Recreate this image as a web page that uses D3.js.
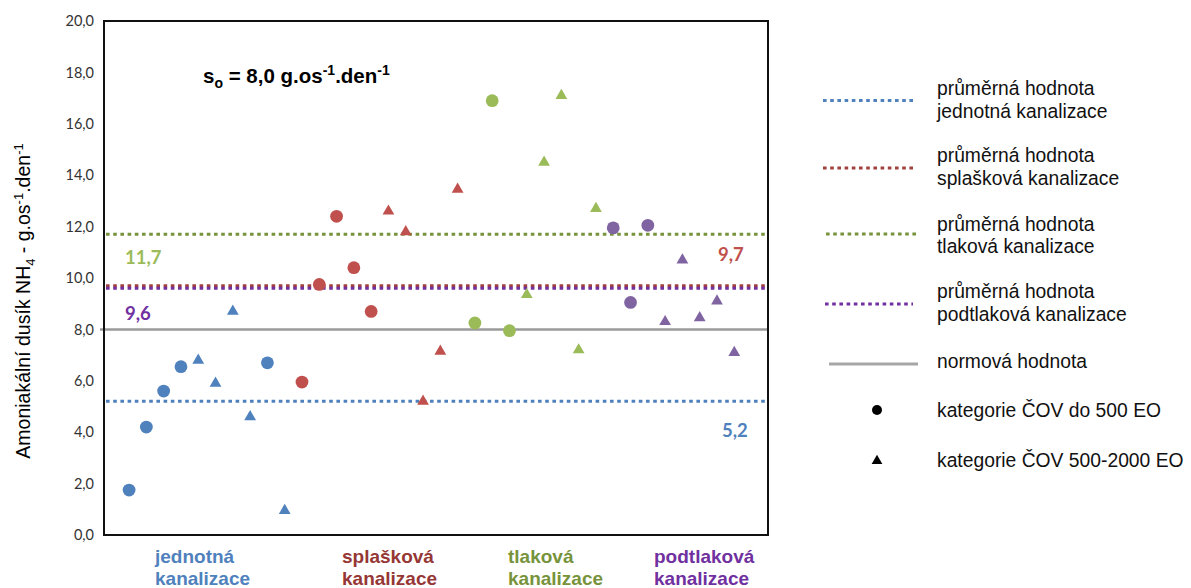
<!DOCTYPE html>
<html>
<head>
<meta charset="utf-8">
<script src="https://cdn.jsdelivr.net/npm/d3@7/dist/d3.min.js"></script>
<style>
  html, body { margin: 0; padding: 0; background: #fff; }
  svg { display: block; }
</style>
</head>
<body>
<div id="chart"></div>
<script>
// Specific load of ammonium nitrogen per person and day, by sewer type
const categories = ["jednotná kanalizace", "splašková kanalizace", "tlaková kanalizace", "podtlaková kanalizace"];
const categoryLines = [["jednotná", "kanalizace"], ["splašková", "kanalizace"], ["tlaková", "kanalizace"], ["podtlaková", "kanalizace"]];

// measured values for each plant (C = ČOV do 500 EO, T = ČOV 500-2000 EO)
const jednotnaValues   = [1.75, 4.2, 5.6, 6.55, 6.8, 5.9, 8.7, 4.6, 6.7, 0.95];
const jednotnaTypes    = ["C", "C", "C", "C", "T", "T", "T", "T", "C", "T"];
const splaskovaValues  = [5.95, 9.75, 12.4, 10.4, 8.7, 12.6, 11.8, 5.2, 7.15, 13.45];
const splaskovaTypes   = ["C", "C", "C", "C", "C", "T", "T", "T", "T", "T"];
const tlakovaValues    = [8.25, 16.9, 7.95, 9.35, 14.5, 17.1, 7.2, 12.7];
const tlakovaTypes     = ["C", "C", "C", "T", "T", "T", "T", "T"];
const podtlakovaValues = [11.95, 9.05, 12.05, 8.3, 10.7, 8.45, 9.1, 7.1];
const podtlakovaTypes  = ["C", "C", "C", "T", "T", "T", "T", "T"];

// mean value for each sewer type and the standard value
const meanValues = [5.2, 9.7, 11.7, 9.6];
const meanLabels = ["5,2", "9,7", "11,7", "9,6"];
const normValue = 8.0;

const yTicks = [0, 2, 4, 6, 8, 10, 12, 14, 16, 18, 20];

const legendMeanLabels = [
  ["průměrná hodnota", "jednotná kanalizace"],
  ["průměrná hodnota", "splašková kanalizace"],
  ["průměrná hodnota", "tlaková kanalizace"],
  ["průměrná hodnota", "podtlaková kanalizace"]
];
const legendNormLabel = "normová hodnota";
const legendMarkerLabels = ["kategorie ČOV do 500 EO", "kategorie ČOV 500-2000 EO"];

// colours
const markerColors = ["#4F81BD", "#C0504D", "#9BBB59", "#8064A2"];
const meanLineColors = ["#4F81BD", "#A0413F", "#77933C", "#7030A0"];
const meanLabelColors = ["#4F81BD", "#C0504D", "#9BBB59", "#7030A0"];
const categoryColors = ["#4F81BD", "#953735", "#77933C", "#7030A0"];

// ---- build point table ----
const groups = [
  [jednotnaValues, jednotnaTypes],
  [splaskovaValues, splaskovaTypes],
  [tlakovaValues, tlakovaTypes],
  [podtlakovaValues, podtlakovaTypes]
];
const points = [];
groups.forEach(([vals, types], g) => {
  vals.forEach((v, i) => points.push({ group: g, value: v, type: types[i], idx: points.length + 1 }));
});

const W = 1191, H = 588;
const plot = { left: 104, top: 21, right: 768, bottom: 535 };

const svg = d3.select("#chart").append("svg")
  .attr("width", W).attr("height", H)
  .attr("viewBox", `0 0 ${W} ${H}`);

const x = d3.scaleLinear().domain([-0.45, points.length + 1.95]).range([plot.left, plot.right]);
const y = d3.scaleLinear().domain([0, 20]).range([plot.bottom, plot.top]);

const fmt = d => d.toFixed(1).replace(".", ",");

// y axis tick labels
const yAxis = d3.axisLeft(y).tickValues(yTicks).tickFormat(fmt).tickSize(0).tickPadding(10);
const gy = svg.append("g").attr("transform", `translate(${plot.left},0)`).call(yAxis);
gy.select(".domain").remove();
gy.selectAll("text")
  .attr("font-family", "Lato, 'Open Sans', sans-serif")
  .attr("font-size", 14.5)
  .attr("fill", "#333");

// y axis title
const yTitle = svg.append("text")
  .attr("transform", "translate(30,301) rotate(-90)")
  .attr("text-anchor", "middle")
  .attr("font-family", "'Liberation Sans', Arial, sans-serif")
  .attr("font-size", 19.5)
  .attr("fill", "#000");
yTitle.append("tspan").text("Amoniakální dusík NH");
yTitle.append("tspan").attr("font-size", 13).attr("dy", 5).text("4");
yTitle.append("tspan").attr("dy", -5).text(" - g.os");
yTitle.append("tspan").attr("font-size", 13).attr("dy", -7).text("-1");
yTitle.append("tspan").attr("dy", 7).text(".den");
yTitle.append("tspan").attr("font-size", 13).attr("dy", -7).text("-1");

// mean value lines (dotted)
svg.append("g").selectAll("line").data(meanValues).join("line")
  .attr("x1", plot.left + 2).attr("x2", plot.right - 2)
  .attr("y1", d => y(d)).attr("y2", d => y(d))
  .attr("stroke", (d, i) => meanLineColors[i])
  .attr("stroke-width", 3)
  .attr("stroke-dasharray", "3.6 3.6");

// standard value line
svg.append("line")
  .attr("x1", plot.left - 4).attr("x2", plot.right)
  .attr("y1", y(normValue)).attr("y2", y(normValue))
  .attr("stroke", "#9a9a9a").attr("stroke-width", 2.5);

// plot frame
svg.append("rect")
  .attr("x", plot.left).attr("y", plot.top)
  .attr("width", plot.right - plot.left).attr("height", plot.bottom - plot.top)
  .attr("fill", "none").attr("stroke", "#111").attr("stroke-width", 2);

// points
const circleSym = d3.symbol().type(d3.symbolCircle).size(Math.PI * 6.4 * 6.4);
const triSym = d3.symbol().type(d3.symbolTriangle).size(60);
svg.append("g").selectAll("path").data(points).join("path")
  .attr("transform", d => `translate(${x(d.idx)},${y(d.value)})`)
  .attr("d", d => d.type === "C" ? circleSym() : triSym())
  .attr("fill", d => markerColors[d.group]);

// mean value labels
const meanLabelPos = [
  { x: 722, dy: 36 },   // jednotná – below its line
  { x: 718, dy: -25 },  // splašková – above its line
  { x: 125, dy: 30 },   // tlaková – below its line
  { x: 125, dy: 32 }    // podtlaková – below its line
];
svg.append("g").selectAll("text").data(meanValues).join("text")
  .attr("x", (d, i) => meanLabelPos[i].x)
  .attr("y", (d, i) => y(d) + meanLabelPos[i].dy)
  .attr("font-family", "Lato, 'Open Sans', sans-serif")
  .attr("font-weight", 700)
  .attr("font-size", 18.5)
  .attr("fill", (d, i) => meanLabelColors[i])
  .text((d, i) => meanLabels[i]);

// s_o annotation
const ann = svg.append("text")
  .attr("x", 203).attr("y", 83)
  .attr("font-family", "'Liberation Sans', Arial, sans-serif")
  .attr("font-weight", 700)
  .attr("font-size", 20.5)
  .attr("fill", "#000");
ann.append("tspan").text("s");
ann.append("tspan").attr("font-size", 14).attr("dy", 5).text("o");
ann.append("tspan").attr("dy", -5).text(" = 8,0 g.os");
ann.append("tspan").attr("font-size", 14).attr("dy", -8).text("-1");
ann.append("tspan").attr("dy", 8).text(".den");
ann.append("tspan").attr("font-size", 14).attr("dy", -8).text("-1");

// category labels under the plot
const catLeft = [155, 342, 508, 654];
const catG = svg.append("g");
categoryLines.forEach((lines, i) => {
  const t = catG.append("text")
    .attr("x", catLeft[i]).attr("y", 563)
    .attr("font-family", "'Liberation Sans', Arial, sans-serif")
    .attr("font-weight", 700)
    .attr("font-size", 19)
    .attr("fill", categoryColors[i]);
  lines.forEach((ln, k) => t.append("tspan").attr("x", catLeft[i]).attr("dy", k === 0 ? 0 : 22).text(ln));
});

// legend
const leg = svg.append("g")
  .attr("font-family", "'Liberation Sans', Arial, sans-serif")
  .attr("font-size", 19.3)
  .attr("fill", "#111");
const legLineY = [100.5, 168, 234, 304];
const legTextY = [[95, 117.5], [162, 185], [230.5, 253], [297.5, 321]];
const legLineX = [[823, 913], [823, 913], [826, 916], [825, 913]];
legendMeanLabels.forEach((lines, i) => {
  leg.append("line")
    .attr("x1", legLineX[i][0]).attr("x2", legLineX[i][1])
    .attr("y1", legLineY[i]).attr("y2", legLineY[i])
    .attr("stroke", meanLineColors[i]).attr("stroke-width", 3)
    .attr("stroke-dasharray", "3.6 3.6");
  lines.forEach((ln, k) => leg.append("text").attr("x", 937).attr("y", legTextY[i][k]).text(ln));
});
leg.append("line")
  .attr("x1", 829).attr("x2", 918).attr("y1", 364).attr("y2", 364)
  .attr("stroke", "#a6a6a6").attr("stroke-width", 3);
leg.append("text").attr("x", 937).attr("y", 367.5).text(legendNormLabel);
leg.append("path").attr("transform", "translate(877,410)")
  .attr("d", d3.symbol().type(d3.symbolCircle).size(Math.PI * 5 * 5)()).attr("fill", "#000");
leg.append("text").attr("x", 937).attr("y", 416.5).text(legendMarkerLabels[0]);
leg.append("path").attr("transform", "translate(877,461)")
  .attr("d", d3.symbol().type(d3.symbolTriangle).size(50)()).attr("fill", "#000");
leg.append("text").attr("x", 937).attr("y", 467).text(legendMarkerLabels[1]);
</script>
</body>
</html>
